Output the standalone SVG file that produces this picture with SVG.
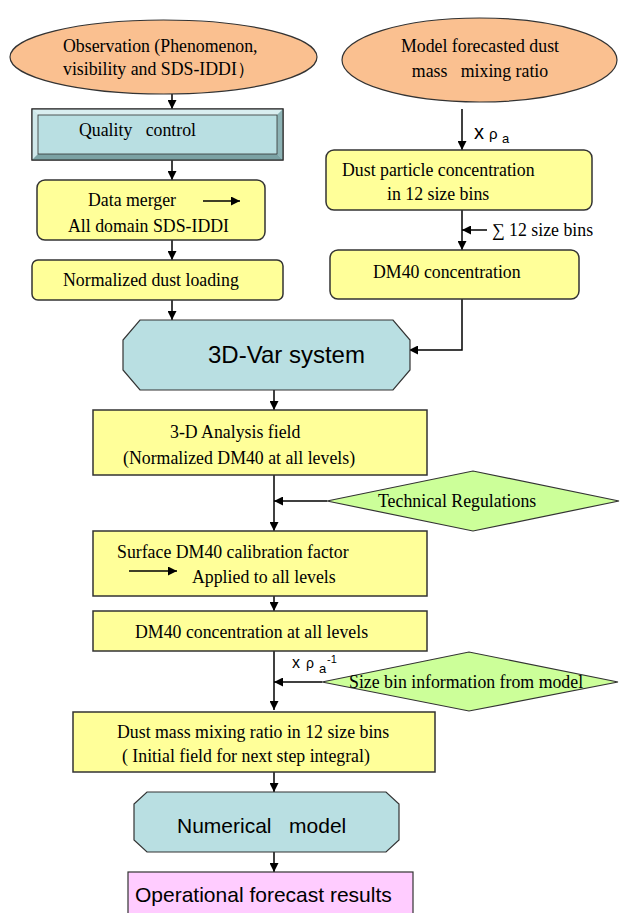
<svg xmlns="http://www.w3.org/2000/svg" width="620" height="913" viewBox="0 0 620 913">
  <style>
    .serif { font-family: "Liberation Serif", "Times New Roman", serif; font-size: 17.8px; fill: #000; }
    .sans { font-family: "Liberation Sans", Arial, sans-serif; fill: #000; }
    .oval { fill: #FAC090; stroke: #333; stroke-width: 1.2; }
    .box { fill: #FFFF99; stroke: #333; stroke-width: 1.5; }
    .teal { fill: #B9DFE2; stroke: #333; stroke-width: 1.2; }
    .green { fill: #CCFF99; stroke: #333; stroke-width: 1.2; }
    .pink { fill: #FFCCFF; stroke: #333; stroke-width: 1.2; }
    .line { fill: none; stroke: #000; stroke-width: 1.5; }
  </style>
  <defs>
    <marker id="head" viewBox="0 0 10 10" refX="10" refY="5" markerWidth="9" markerHeight="9" orient="auto" markerUnits="userSpaceOnUse">
      <path d="M0,0 L10,5 L0,10 z" fill="#000"/>
    </marker>
  </defs>
  <rect width="620" height="913" fill="#fff"/>

  <!-- connectors -->
  <g id="connectors" class="line" marker-end="url(#head)">
    <line x1="172" y1="94" x2="172" y2="109"/>
    <line x1="172" y1="160" x2="172" y2="180"/>
    <line x1="172" y1="240" x2="172" y2="260"/>
    <line x1="172" y1="300" x2="172" y2="320"/>
    <line x1="462" y1="109" x2="462" y2="150"/>
    <line x1="462" y1="210" x2="462" y2="250"/>
    <line x1="487" y1="230" x2="462" y2="230"/>
    <polyline points="462,299 462,350 409,350"/>
    <line x1="274" y1="390" x2="274" y2="410"/>
    <line x1="274" y1="475" x2="274" y2="531"/>
    <line x1="327" y1="501" x2="274" y2="501"/>
    <line x1="274" y1="596" x2="274" y2="611"/>
    <line x1="274" y1="651" x2="274" y2="710"/>
    <line x1="322" y1="682" x2="274" y2="682"/>
    <line x1="274" y1="772" x2="274" y2="792"/>
    <line x1="274" y1="852" x2="274" y2="872"/>
  </g>

  <g id="observation">
    <ellipse class="oval" cx="163.5" cy="57" rx="153.5" ry="37"/>
    <text class="serif" x="63" y="52" font-size="17.3">Observation (Phenomenon,</text>
    <text class="serif" x="63" y="75" font-size="17.3">visibility and SDS-IDDI）</text>
  </g>

  <g id="model-forecast">
    <ellipse class="oval" cx="479.5" cy="60" rx="137.5" ry="42"/>
    <text class="serif" x="480" y="52" text-anchor="middle">Model forecasted dust</text>
    <text class="serif" x="480" y="77" text-anchor="middle" xml:space="preserve">mass   mixing ratio</text>
  </g>

  <g id="quality-control">
    <rect x="32" y="109" width="251" height="51" fill="#B9DFE2" stroke="#333" stroke-width="1.2"/>
    <polygon points="32,109 283,109 277,115 38,115" fill="#D9EEF0"/>
    <polygon points="32,109 38,115 38,154 32,160" fill="#CFE8EA"/>
    <polygon points="283,109 283,160 277,154 277,115" fill="#8DB3B5"/>
    <polygon points="32,160 283,160 277,154 38,154" fill="#7BA2A4"/>
    <rect x="38" y="115" width="239" height="39" fill="#B9DFE2" stroke="#333" stroke-width="0.8"/>
    <rect x="32" y="109" width="251" height="51" fill="none" stroke="#333" stroke-width="1.2"/>
    <text class="serif" x="79" y="136" xml:space="preserve">Quality   control</text>
  </g>

  <g id="data-merger">
    <rect class="box" x="37" y="180" width="228" height="60" rx="8"/>
    <text class="serif" x="88" y="206">Data merger</text>
    <line class="line" x1="203" y1="201" x2="240" y2="201" marker-end="url(#head)"/>
    <text class="serif" x="68" y="232">All domain SDS-IDDI</text>
  </g>

  <g id="normalized-loading">
    <rect class="box" x="32" y="260" width="251" height="40" rx="6"/>
    <text class="serif" x="63" y="286">Normalized dust loading</text>
  </g>

  <g id="label-rho">
    <text class="sans" x="474" y="139" font-size="20">x</text>
    <text class="sans" x="489" y="139" font-size="15" fill="#333">ρ</text>
    <text class="sans" x="502" y="143" font-size="13">a</text>
  </g>

  <g id="particle-concentration">
    <rect class="box" x="326" y="150" width="266" height="60" rx="8"/>
    <text class="serif" x="342" y="176">Dust particle concentration</text>
    <text class="serif" x="387" y="200">in 12 size bins</text>
  </g>

  <g id="label-sum">
    <text class="serif" x="492" y="236">∑ 12 size bins</text>
  </g>

  <g id="dm40-concentration">
    <rect class="box" x="330" y="250" width="249" height="49" rx="8"/>
    <text class="serif" x="373" y="278">DM40 concentration</text>
  </g>

  <g id="var-system">
    <polygon class="teal" points="140,320 393,320 410,340 410,370 393,390 140,390 123,370 123,340"/>
    <text class="sans" x="208" y="363" font-size="24">3D-Var system</text>
  </g>

  <g id="analysis-field">
    <rect class="box" x="93" y="410" width="334" height="65"/>
    <text class="serif" x="170" y="438">3-D Analysis field</text>
    <text class="serif" x="123" y="464">(Normalized DM40 at all levels)</text>
  </g>

  <g id="technical-regulations">
    <polygon class="green" points="327,501 473,471 619,501 473,531"/>
    <text class="serif" x="378" y="507">Technical Regulations</text>
  </g>

  <g id="calibration">
    <rect class="box" x="93" y="531" width="334" height="65"/>
    <text class="serif" x="117" y="558">Surface DM40 calibration factor</text>
    <line class="line" x1="129" y1="571" x2="177" y2="571" marker-end="url(#head)"/>
    <text class="serif" x="192" y="583">Applied to all levels</text>
  </g>

  <g id="dm40-all-levels">
    <rect class="box" x="93" y="611" width="334" height="40"/>
    <text class="serif" x="135" y="638">DM40 concentration at all levels</text>
  </g>

  <g id="label-rho-inverse">
    <text class="sans" x="292" y="668" font-size="16">x</text>
    <text class="sans" x="306" y="668" font-size="14" fill="#333">ρ</text>
    <text class="sans" x="319" y="673" font-size="13">a</text>
    <text class="sans" x="327" y="663" font-size="11">-1</text>
  </g>

  <g id="size-bin-info">
    <polygon class="green" points="322,682 469,652 618,682 469,711"/>
    <text class="serif" x="349" y="688">Size bin information from model</text>
  </g>

  <g id="mixing-ratio">
    <rect class="box" x="73" y="712" width="362" height="60"/>
    <text class="serif" x="117" y="738">Dust mass mixing ratio in 12 size bins</text>
    <text class="serif" x="122" y="762">( Initial field for next step integral)</text>
  </g>

  <g id="numerical-model">
    <polygon class="teal" points="147,792 386,792 399,804 399,840 386,852 147,852 134,840 134,804"/>
    <text class="sans" x="177" y="833" font-size="21" xml:space="preserve">Numerical   model</text>
  </g>

  <g id="forecast-results">
    <rect class="pink" x="128" y="872" width="285" height="50"/>
    <text class="sans" x="135" y="902" font-size="21">Operational forecast results</text>
  </g>
</svg>
